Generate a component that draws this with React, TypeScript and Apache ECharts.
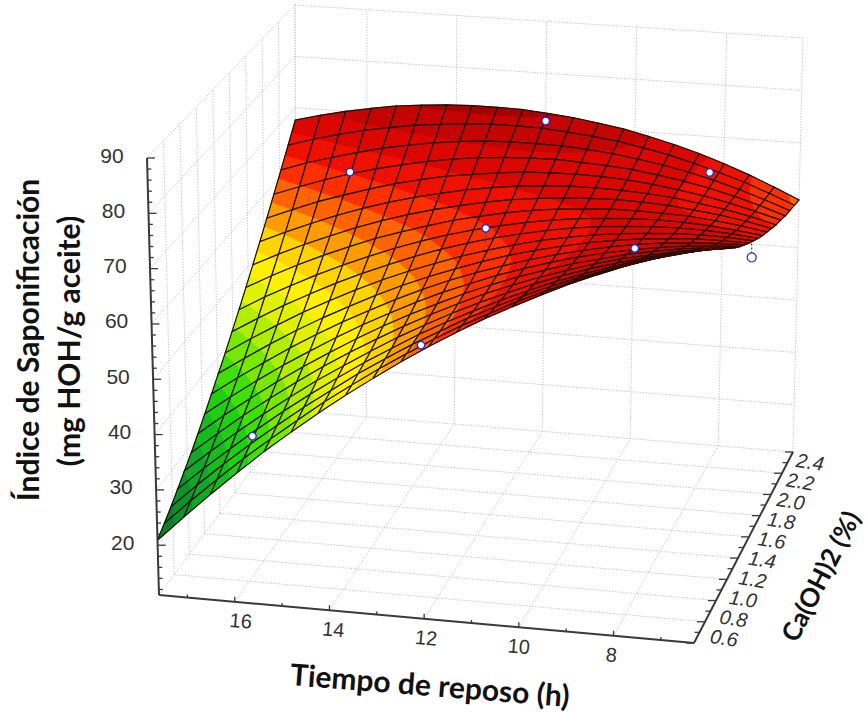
import React, { useEffect, useRef } from "react";
import * as echarts from "echarts";

const timeTicks = [16, 14, 12, 10, 8];
const caTicks = [0.6, 0.8, 1.0, 1.2, 1.4, 1.6, 1.8, 2.0, 2.2, 2.4];
const zTicks = [20, 30, 40, 50, 60, 70, 80, 90];
const timeGrid = [17.6, 17.035, 16.47, 15.905, 15.34, 14.775, 14.21, 13.645, 13.08, 12.515, 11.95, 11.385, 10.82, 10.255, 9.69, 9.125, 8.56, 7.995, 7.43, 6.865, 6.3];
const caGrid = [0.6, 0.69, 0.78, 0.87, 0.96, 1.05, 1.14, 1.23, 1.32, 1.41, 1.5, 1.59, 1.68, 1.77, 1.86, 1.95, 2.04, 2.13, 2.22, 2.31, 2.4];
const tMax = 17.6, tMin = 6.3, cMin = 0.6, cMax = 2.4, zMin = 11, zMax = 90;
const zRows = [
  [20.9, 25.5, 30.0, 34.3, 38.5, 42.4, 46.2, 49.8, 53.2, 56.5, 59.6, 62.5, 65.3, 67.8, 70.2, 72.5, 74.5, 76.4, 78.1, 79.6, 81.0],
  [22.3, 26.8, 31.1, 35.3, 39.2, 43.0, 46.7, 50.1, 53.4, 56.5, 59.5, 62.3, 64.8, 67.3, 69.5, 71.6, 73.5, 75.2, 76.8, 78.2, 79.4],
  [23.7, 28.1, 32.3, 36.3, 40.1, 43.8, 47.2, 50.6, 53.7, 56.7, 59.4, 62.1, 64.5, 66.8, 68.9, 70.8, 72.5, 74.1, 75.5, 76.7, 77.8],
  [25.3, 29.5, 33.5, 37.4, 41.1, 44.6, 47.9, 51.1, 54.0, 56.9, 59.5, 61.9, 64.2, 66.3, 68.3, 70.0, 71.6, 73.1, 74.3, 75.4, 76.3],
  [27.0, 31.0, 34.9, 38.6, 42.1, 45.5, 48.6, 51.6, 54.5, 57.1, 59.6, 61.9, 64.0, 66.0, 67.8, 69.4, 70.8, 72.1, 73.2, 74.1, 74.8],
  [28.7, 32.6, 36.4, 39.9, 43.3, 46.5, 49.5, 52.3, 55.0, 57.5, 59.8, 62.0, 63.9, 65.7, 67.3, 68.8, 70.1, 71.1, 72.1, 72.8, 73.4],
  [30.6, 34.4, 37.9, 41.3, 44.5, 47.5, 50.4, 53.1, 55.6, 57.9, 60.1, 62.1, 63.9, 65.5, 67.0, 68.2, 69.4, 70.3, 71.1, 71.6, 72.0],
  [32.6, 36.2, 39.6, 42.8, 45.8, 48.7, 51.4, 53.9, 56.3, 58.5, 60.4, 62.3, 63.9, 65.4, 66.7, 67.8, 68.7, 69.5, 70.1, 70.5, 70.7],
  [34.7, 38.1, 41.3, 44.4, 47.3, 50.0, 52.5, 54.9, 57.1, 59.1, 60.9, 62.5, 64.0, 65.3, 66.4, 67.4, 68.2, 68.8, 69.2, 69.4, 69.5],
  [36.9, 40.1, 43.2, 46.1, 48.8, 51.3, 53.7, 55.9, 57.9, 59.7, 61.4, 62.9, 64.2, 65.3, 66.3, 67.1, 67.7, 68.1, 68.4, 68.4, 68.3],
  [39.1, 42.2, 45.1, 47.9, 50.4, 52.8, 55.0, 57.0, 58.8, 60.5, 62.0, 63.3, 64.5, 65.4, 66.2, 66.8, 67.2, 67.5, 67.6, 67.5, 67.2],
  [41.5, 44.4, 47.2, 49.7, 52.1, 54.3, 56.3, 58.2, 59.9, 61.4, 62.7, 63.8, 64.8, 65.6, 66.2, 66.6, 66.9, 67.0, 66.9, 66.6, 66.1],
  [44.0, 46.8, 49.3, 51.7, 53.9, 55.9, 57.8, 59.5, 61.0, 62.3, 63.4, 64.4, 65.2, 65.8, 66.2, 66.5, 66.6, 66.5, 66.2, 65.7, 65.1],
  [46.6, 49.2, 51.6, 53.8, 55.8, 57.7, 59.3, 60.8, 62.2, 63.3, 64.3, 65.1, 65.7, 66.1, 66.4, 66.4, 66.3, 66.1, 65.6, 65.0, 64.2],
  [49.3, 51.7, 53.9, 55.9, 57.8, 59.5, 61.0, 62.3, 63.4, 64.4, 65.2, 65.8, 66.2, 66.5, 66.6, 66.5, 66.2, 65.7, 65.1, 64.3, 63.3],
  [52.1, 54.3, 56.3, 58.2, 59.9, 61.4, 62.7, 63.8, 64.8, 65.6, 66.2, 66.6, 66.9, 66.9, 66.8, 66.5, 66.1, 65.4, 64.6, 63.6, 62.4],
  [55.0, 57.0, 58.9, 60.5, 62.0, 63.4, 64.5, 65.5, 66.2, 66.8, 67.3, 67.5, 67.6, 67.5, 67.2, 66.7, 66.0, 65.2, 64.2, 63.0, 61.7],
  [58.0, 59.8, 61.5, 63.0, 64.3, 65.4, 66.4, 67.2, 67.8, 68.2, 68.4, 68.5, 68.3, 68.0, 67.6, 66.9, 66.1, 65.1, 63.9, 62.5, 60.9],
  [61.1, 62.8, 64.2, 65.5, 66.7, 67.6, 68.4, 69.0, 69.4, 69.6, 69.6, 69.5, 69.2, 68.7, 68.0, 67.2, 66.2, 65.0, 63.6, 62.0, 60.3],
  [64.3, 65.8, 67.1, 68.2, 69.1, 69.9, 70.4, 70.8, 71.1, 71.1, 71.0, 70.6, 70.1, 69.5, 68.6, 67.6, 66.3, 64.9, 63.4, 61.6, 59.7],
  [67.6, 68.9, 70.0, 70.9, 71.7, 72.2, 72.6, 72.8, 72.8, 72.7, 72.3, 71.8, 71.1, 70.3, 69.2, 68.0, 66.6, 65.0, 63.2, 61.2, 59.1],
];
const N = 20;
const bandStart = 18, bandStep = 3;
const bandColors = ["#0a6e2e","#0b7f2c","#0d932a","#10a826","#14bc1e","#1fd012","#3fe008","#78e800","#b0ee00","#e0f200","#fff000","#ffd400","#ff9c00","#ff6400","#ff3000","#f01000","#dc0600","#c40400","#a80000","#c40400","#d80800","#e00a00"];
const points = [
  [16, 0.87, 36.1, 0], [12.1, 0.6, 59.8, 0], [8, 0.78, 76.7, 0], [12, 1.5, 66, 1], [16, 2.18, 62.4, 0], [12, 2.4, 70.8, 0], [8, 2.14, 67.9, 1], [6.4, 1.57, 62.9, -1],
];
const C = {
  f00: [159, 595], f10: [694, 643], f11: [793, 452], f01: [296, 411],
  t00: [147, 158], t10: [712, 195], t11: [803, 38], t01: [295, 5],
};
function project(t: number, c: number, z: number) {
  const u = (tMax - t) / (tMax - tMin), v = (c - cMin) / (cMax - cMin), w = (z - zMin) / (zMax - zMin);
  const bil = (a: number[], b: number[], d: number[], e: number[], k: number) => a[k] * (1 - u) * (1 - v) + b[k] * u * (1 - v) + d[k] * u * v + e[k] * (1 - u) * v;
  const out = [0, 1].map((k) => bil(C.f00, C.f10, C.f11, C.f01, k) * (1 - w) + bil(C.t00, C.t10, C.t11, C.t01, k) * w);
  return out;
}
function clip(poly: number[][], level: number, keepAbove: boolean) {
  const res: number[][] = [];
  for (let i = 0; i < poly.length; i++) {
    const a = poly[i], b = poly[(i + 1) % poly.length];
    const ia = keepAbove ? a[2] >= level : a[2] <= level;
    const ib = keepAbove ? b[2] >= level : b[2] <= level;
    if (ia) res.push(a);
    if (ia !== ib) { const s = (level - a[2]) / (b[2] - a[2]); res.push([a[0] + s * (b[0] - a[0]), a[1] + s * (b[1] - a[1]), level]); }
  }
  return res;
}
type Seg = [number, number, number, number, number, number];
function wallSegs(): Seg[] {
  const s: Seg[] = [];
  const ts = [tMax, ...timeTicks, tMin], cs = caTicks, zs = [...zTicks];
  for (const t of ts) { s.push([t, cMax, zMin, t, cMax, zMax]); s.push([t, cMin, zMin, t, cMax, zMin]); }
  for (const c of cs) { s.push([tMax, c, zMin, tMax, c, zMax]); s.push([tMax, c, zMin, tMin, c, zMin]); }
  for (const z of zs) { s.push([tMax, cMin, z, tMax, cMax, z]); s.push([tMax, cMax, z, tMin, cMax, z]); }
  return s;
}
const range = (a: number, b: number, d: number) => { const r: number[] = []; for (let i = 0; a + i * d <= b + 1e-6; i++) r.push(+(a + i * d).toFixed(2)); return r; };

export default function App() {
  const ref = useRef<HTMLDivElement>(null);
  useEffect(() => {
    document.body.style.margin = "0";
    const chart = echarts.init(ref.current!, null, { renderer: "svg" });
    const cells: number[][] = [];
    for (let j = N - 1; j >= 0; j--) for (let i = 0; i < N; i++) cells.push([i, j]);
    const walls = wallSegs();
    const axisFont = "Liberation Sans, Arial, sans-serif";
    const titleStyle = { fontWeight: "bold", fontFamily: "Lato, sans-serif", fill: "#111", textAlign: "center", textVerticalAlign: "middle" };
    const bandOf = (k: number) => bandColors[Math.max(0, Math.min(bandColors.length - 1, k))];
    const option: any = {
      animation: false,
      grid: { left: 0, right: 0, top: 0, bottom: 0 },
      xAxis: { type: "value", min: 0, max: 865, show: false },
      yAxis: { type: "value", min: 0, max: 712, inverse: true, show: false },
      series: [
        {
          type: "custom", coordinateSystem: "cartesian2d", silent: true, clip: false,
          data: walls.map((_, i) => [i]),
          renderItem: (p: any, api: any) => {
            const s = walls[p.dataIndex];
            const a = api.coord(project(s[0], s[1], s[2])), b = api.coord(project(s[3], s[4], s[5]));
            return { type: "line", shape: { x1: a[0], y1: a[1], x2: b[0], y2: b[1] }, style: { stroke: "#c2c2c2", lineWidth: 1, lineDash: [1.2, 1.5] } };
          },
        },
        {
          type: "custom", coordinateSystem: "cartesian2d", silent: true, clip: false,
          data: cells,
          renderItem: (p: any, api: any) => {
            const [i, j] = cells[p.dataIndex];
            const corners = [[i, j], [i + 1, j], [i + 1, j + 1], [i, j + 1]].map(([a, b]) => {
              const z = zRows[b][a]; const q = api.coord(project(timeGrid[a], caGrid[b], z));
              return [q[0], q[1], z];
            });
            const zs = corners.map((q) => q[2]);
            const lo = Math.min(...zs), hi = Math.max(...zs);
            const k0 = Math.floor((lo - bandStart) / bandStep), k1 = Math.floor((hi - bandStart) / bandStep);
            const flat = corners.map((q) => [q[0], q[1]]);
            const children: any[] = [{ type: "polygon", shape: { points: flat }, style: { fill: bandOf(k1), stroke: bandOf(k1), lineWidth: 0.4 } }];
            for (let k = k0; k <= k1; k++) {
              const a = bandStart + k * bandStep;
              let poly = clip(corners, a, true);
              if (poly.length) poly = clip(poly, a + bandStep, false);
              if (poly.length < 3) continue;
              const col = bandOf(k);
              children.push({ type: "polygon", shape: { points: poly.map((q) => [q[0], q[1]]) }, style: { fill: col, stroke: col, lineWidth: 0.4 } });
            }
            children.push({ type: "polygon", shape: { points: flat }, style: { fill: "none", stroke: "#1a1006", lineWidth: 1.2 } });
            return { type: "group", children };
          },
        },
        {
          type: "custom", coordinateSystem: "cartesian2d", silent: true, clip: false, z: 5,
          data: points,
          renderItem: (p: any, api: any) => {
            const d = points[p.dataIndex];
            const q = api.coord(project(d[0], d[1], d[2]));
            const children: any[] = [];
            if (d[3] !== 0) children.push({ type: "line", shape: { x1: q[0], y1: q[1], x2: q[0], y2: q[1] + 16 * d[3] }, style: { stroke: "#3030d0", lineWidth: 1.2, lineDash: [2, 2] } });
            const hollow = d[3] < 0;
            children.push({ type: "circle", shape: { cx: q[0], cy: q[1], r: hollow ? 4.5 : 3.8 }, style: { fill: "#fff", stroke: "#2a2ad8", lineWidth: hollow ? 1.2 : 1.4 } });
            return { type: "group", children };
          },
        },
        {
          type: "custom", coordinateSystem: "cartesian2d", silent: true, clip: false, z: 6,
          data: [[0]],
          renderItem: (_: any, api: any) => {
            const children: any[] = [];
            const L = (a: number[], b: number[], w: number) => children.push({ type: "line", shape: { x1: a[0], y1: a[1], x2: b[0], y2: b[1] }, style: { stroke: "#3a3a3a", lineWidth: w } });
            const P = (t: number, c: number, z: number) => api.coord(project(t, c, z));
            L(P(tMax, cMin, zMin), P(tMax, cMin, zMax), 2);
            L(P(tMax, cMin, zMin), P(tMin, cMin, zMin), 2);
            L(P(tMin, cMin, zMin), P(tMin, cMax, zMin), 2);
            for (const z of range(12, 90, 2)) { const a = P(tMax, cMin, z); L(a, [a[0] + (z % 10 ? 4 : 8), a[1]], 1.3); }
            for (const t of range(7, 17, 1)) { const a = P(t, cMin, zMin); L(a, [a[0], a[1] - (t % 2 ? 3 : 5)], 1.3); }
            for (const c of range(0.6, 2.4, 0.1)) { const a = P(tMin, c, zMin); const maj = Math.round(c * 10) % 2 === 0; L(a, [a[0] - (maj ? 8 : 5), a[1]], 1.3); }
            const T = (text: string, x: number, y: number, size: number, rot: number, extra: any = {}) => children.push({ type: "text", x, y, rotation: rot * Math.PI / 180, style: { text, fontSize: size, fontFamily: axisFont, fill: "#333", textAlign: "center", textVerticalAlign: "middle", ...extra } });
            for (const z of zTicks) { const a = P(tMax, cMin, z); T(String(z), a[0] - 35, a[1] - 3, 21, 0); }
            for (const t of timeTicks) { const a = P(t, cMin, zMin); T(String(t), a[0] + 2 + (t - 12), a[1] + 19, 20, -5); }
            for (const c of caTicks) { const a = P(tMin, c, zMin); const v = (c - cMin) / (cMax - cMin); T(c.toFixed(1), a[0] + 30 - 13 * v, a[1] - 5 + 15 * v, 20, -9, { fontStyle: "italic" }); }
            return { type: "group", children };
          },
        },
      ],
      graphic: [
        { type: "text", x: 27, y: 340, rotation: Math.PI / 2, style: { text: "Índice de Saponificación", fontSize: 30, ...titleStyle } },
        { type: "text", x: 68, y: 341, rotation: Math.PI / 2, style: { text: "(mg HOH/g aceite)", fontSize: 30, ...titleStyle } },
        { type: "text", x: 430, y: 684, rotation: -4.5 * Math.PI / 180, style: { text: "Tiempo de reposo (h)", fontSize: 30, ...titleStyle } },
        { type: "text", x: 820, y: 576, rotation: 63 * Math.PI / 180, style: { text: "Ca(OH)2 (%)", fontSize: 26, ...titleStyle } },
      ],
    };
    chart.setOption(option);
    return () => chart.dispose();
  }, []);
  return <div ref={ref} style={{ width: 865, height: 712, position: "fixed", left: 0, top: 0, background: "#fff" }} />;
}
